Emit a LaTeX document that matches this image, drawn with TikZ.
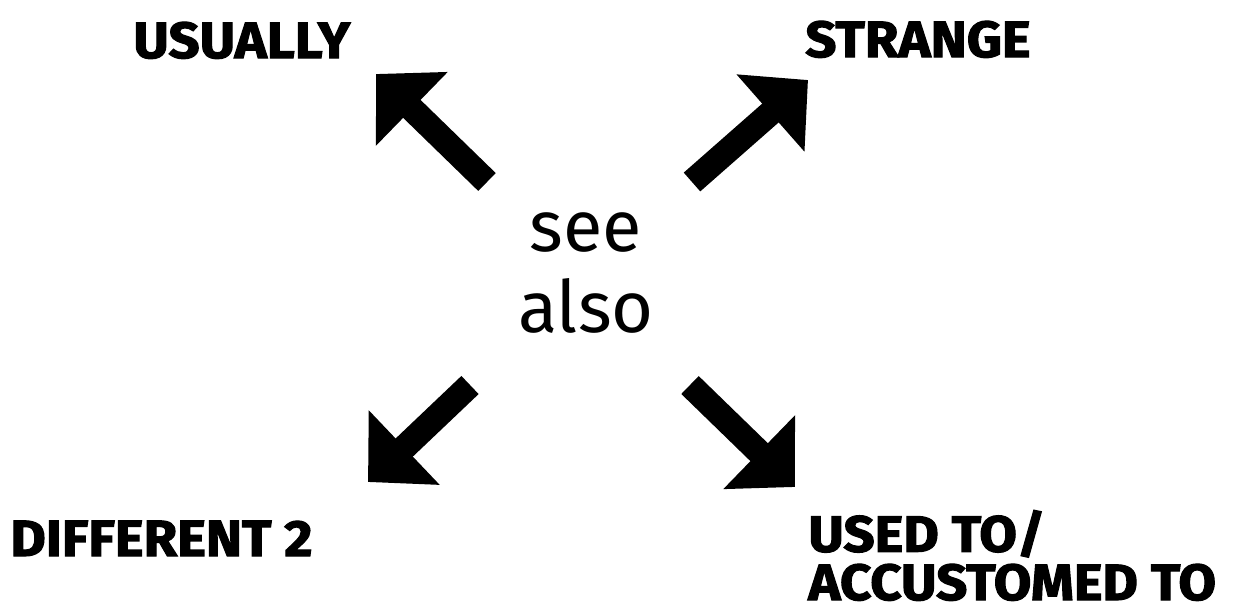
\documentclass[tikz,border=0pt]{standalone}
\usepackage{fontspec}
\setmainfont{Fira Sans}[BoldFeatures={FakeBold=2.2, FakeStretch=1.07}]
\usetikzlibrary{arrows.meta}

\begin{document}
\begin{tikzpicture}[
  x=0.02cm, y=-0.02cm,
  word/.style={anchor=base west, inner sep=0pt, align=left, font=\bfseries\fontsize{29}{27.5}\selectfont},
  hub/.style={align=center, inner sep=0pt, font=\fontsize{41}{46}\selectfont},
  bigarr/.style={-{Triangle[length=1.0cm, width=2.0cm]}, line width=0.5cm}
]
\useasboundingbox (0,0) rectangle (1258,613);
\node[hub] (hub) at (586,273) {see\\also};
\node[word] (usually) at (133,58) {USUALLY};
\node[word] (strange) at (805,57) {STRANGE};
\node[word] (different) at (10,556) {DIFFERENT 2};
\node[word] (usedto) at (808,600) {USED TO/\\ACCUSTOMED TO};
% arrow ends
\coordinate (nw0) at (487,182);
\coordinate (nw1) at (376,74);
\coordinate (ne0) at (692,182);
\coordinate (ne1) at (808,80);
\coordinate (sw0) at (470,385);
\coordinate (sw1) at (368,482);
\coordinate (se0) at (690,385);
\coordinate (se1) at (795,487);
\draw[bigarr] (nw0) -- (nw1);
\draw[bigarr] (ne0) -- (ne1);
\draw[bigarr] (sw0) -- (sw1);
\draw[bigarr] (se0) -- (se1);
\end{tikzpicture}
\end{document}
